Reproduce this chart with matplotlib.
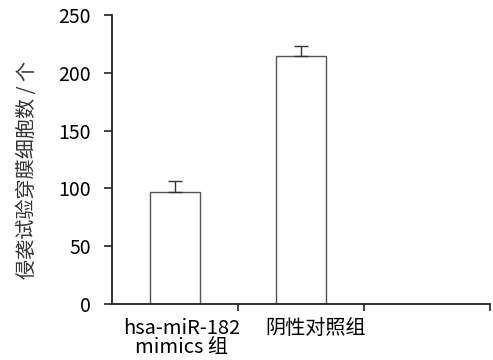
import matplotlib.pyplot as plt
import numpy as np

plt.rcParams['font.family'] = ['Noto Sans CJK SC', 'DejaVu Sans']

# data
groups = ['hsa-miR-182\nmimics 组', '阴性对照组']
values = [97, 215]
errors = [9.5, 8]
yticks = [0, 50, 100, 150, 200, 250]

fig = plt.figure(figsize=(4.93, 3.6), dpi=100)
ax = fig.add_axes([0.227, 0.156, 0.767, 0.802])

x = np.arange(len(groups)) + 0.5
ax.bar(x, values, width=0.4, color='white', edgecolor='#555555', linewidth=1.0)
ax.errorbar(x, values, yerr=[np.zeros(len(errors)), errors], fmt='none',
            ecolor='#333333', elinewidth=1.0, capsize=5, capthick=1.0)

ax.set_xlim(0, 3)
ax.set_ylim(0, 250)
ax.set_yticks(yticks)
ax.set_yticklabels([str(t) for t in yticks], fontsize=14, fontweight='medium')

# boundary ticks without labels, group names on minor ticks
ax.set_xticks([1, 2, 3])
ax.set_xticklabels([])
ax.set_xticks(x + np.array([0.055, 0.12]), minor=True)
ax.set_xticklabels(groups, minor=True, fontsize=14.5, linespacing=0.9)
for lab, w in zip(ax.get_xticklabels(minor=True), ['medium', 'light']):
    lab.set_fontweight(w)
ax.tick_params(axis='x', which='minor', length=0, pad=10)
ax.tick_params(axis='x', which='major', length=5, width=1.2, color='#222222')
ax.tick_params(axis='y', length=6, width=1.2, color='#222222', pad=9)

for side in ['top', 'right']:
    ax.spines[side].set_visible(False)
for side in ['left', 'bottom']:
    ax.spines[side].set_linewidth(1.3)
    ax.spines[side].set_color('#222222')

ax.set_ylabel('侵袭试验穿膜细胞数 / 个', fontsize=14.5, color='#333333',
              fontweight='light', labelpad=15, y=0.465)

fig.savefig('out.png', dpi=100)
